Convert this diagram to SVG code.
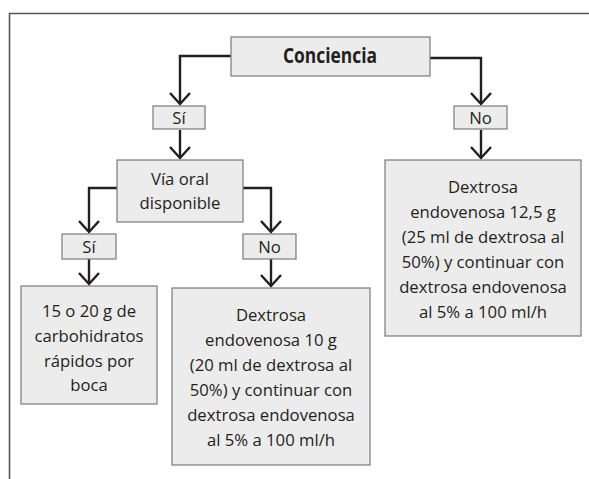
<svg xmlns="http://www.w3.org/2000/svg" width="589" height="479" viewBox="0 0 589 479">
<style>
.box{fill:#ececec;stroke:#7a7a7a;stroke-width:1.2}
.t{font-family:"Open Sans","Liberation Sans",sans-serif;font-size:16.7px;fill:#231f20;text-anchor:middle}
.tb{font-family:"Open Sans","Liberation Sans",sans-serif;font-size:22px;font-weight:bold;fill:#231f20;text-anchor:middle}
.c{fill:none;stroke:#231f20;stroke-width:2.4}
</style>
<defs>
<marker id="v" markerUnits="userSpaceOnUse" orient="auto" markerWidth="30" markerHeight="30" refX="0" refY="0" viewBox="-15 -15 30 30" overflow="visible">
<path d="M-11,-10 L0,0 L-11,10" fill="none" stroke="#231f20" stroke-width="2.4"/>
</marker>
</defs>
<rect width="589" height="479" fill="#fff"/>
<path d="M9.5,479 V13.5 H589" fill="none" stroke="#555" stroke-width="1.6"/>
<g id="connectors">
<path class="c" marker-end="url(#v)" d="M231,56 H180 V104"/>
<path class="c" marker-end="url(#v)" d="M430,58 H481 V104"/>
<path class="c" marker-end="url(#v)" d="M180,130 V158"/>
<path class="c" marker-end="url(#v)" d="M481,130 V158"/>
<path class="c" marker-end="url(#v)" d="M117,188 H89 V232"/>
<path class="c" marker-end="url(#v)" d="M243,188 H271 V232"/>
<path class="c" marker-end="url(#v)" d="M89,259 V284"/>
<path class="c" marker-end="url(#v)" d="M271,259 V286"/>
</g>
<g id="conciencia">
<rect class="box" x="231" y="37" width="199" height="39"/>
<text class="tb" x="330" y="63" textLength="94" lengthAdjust="spacingAndGlyphs">Conciencia</text>
</g>
<g id="si1">
<rect class="box" x="153" y="106" width="52" height="23"/>
<text class="t" x="179" y="124">Sí</text>
</g>
<g id="no1">
<rect class="box" x="454" y="106" width="53" height="23"/>
<text class="t" x="480.5" y="124">No</text>
</g>
<g id="via-oral">
<rect class="box" x="117" y="160" width="126" height="62"/>
<text class="t" x="180" y="185">Vía oral</text>
<text class="t" x="180" y="208.5">disponible</text>
</g>
<g id="si2">
<rect class="box" x="62" y="234" width="54" height="25"/>
<text class="t" x="89" y="253">Sí</text>
</g>
<g id="no2">
<rect class="box" x="243" y="234" width="53" height="25"/>
<text class="t" x="269.5" y="253">No</text>
</g>
<g id="carbohidratos">
<rect class="box" x="21" y="286" width="136" height="118"/>
<text class="t" x="89" y="316.5">15 o 20 g de</text>
<text class="t" x="89" y="341.5">carbohidratos</text>
<text class="t" x="89" y="366.5">rápidos por</text>
<text class="t" x="89" y="391">boca</text>
</g>
<g id="dextrosa-10">
<rect class="box" x="172" y="288" width="198" height="177"/>
<text class="t" x="271" y="321">Dextrosa</text>
<text class="t" x="271" y="346">endovenosa 10 g</text>
<text class="t" x="271" y="371">(20 ml de dextrosa al</text>
<text class="t" x="271" y="396">50%) y continuar con</text>
<text class="t" x="271" y="421">dextrosa endovenosa</text>
<text class="t" x="271" y="446">al 5% a 100 ml/h</text>
</g>
<g id="dextrosa-12">
<rect class="box" x="385" y="160" width="196" height="176"/>
<text class="t" x="483" y="193">Dextrosa</text>
<text class="t" x="483" y="218">endovenosa 12,5 g</text>
<text class="t" x="483" y="243">(25 ml de dextrosa al</text>
<text class="t" x="483" y="268">50%) y continuar con</text>
<text class="t" x="483" y="293">dextrosa endovenosa</text>
<text class="t" x="483" y="318">al 5% a 100 ml/h</text>
</g>
</svg>
